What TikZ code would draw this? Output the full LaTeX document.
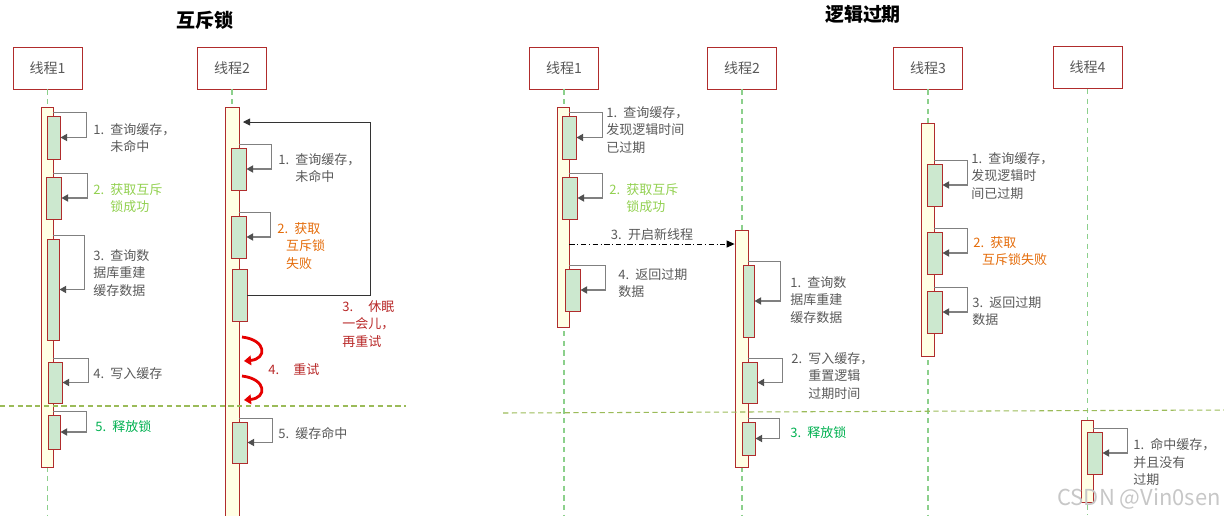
\documentclass[tikz,border=0pt]{standalone}
\usepackage{fontspec}
\setmainfont{Noto Sans CJK SC}
\usetikzlibrary{arrows.meta, positioning, fit, calc}

\definecolor{boxred}{RGB}{176,44,44}
\definecolor{txtgray}{RGB}{89,89,89}
\definecolor{barfill}{RGB}{255,255,228}
\definecolor{execfill}{RGB}{204,232,207}
\definecolor{lifegreen}{RGB}{140,208,140}
\definecolor{sepgreen}{RGB}{155,187,89}
\definecolor{callgray}{RGB}{128,128,128}
\definecolor{tipgray}{RGB}{80,80,80}
\definecolor{okgreen}{RGB}{146,208,80}
\definecolor{relgreen}{RGB}{0,176,80}
\definecolor{failorange}{RGB}{228,108,10}
\definecolor{sleepred}{RGB}{184,40,40}
\definecolor{retryred}{RGB}{230,0,0}

% fixed-width step number, like "1."
\newcommand{\stepno}[2][9.7pt]{\makebox[#1][l]{#2}}

\begin{document}
\begin{tikzpicture}[x=0.02cm, y=-0.02cm,
  title/.style={font=\fontsize{10.8pt}{12pt}\selectfont\bfseries, text=black, inner sep=0pt},
  thread/.style={draw=boxred, line width=0.5pt, fill=white, minimum width=1.38cm,
    minimum height=0.84cm, text=txtgray, font=\fontsize{8pt}{9pt}\selectfont},
  life/.style={lifegreen, line width=0.6pt, dash pattern=on 3pt off 2.5pt},
  actbar/.style={draw=boxred, fill=barfill, line width=0.5pt, inner sep=0pt},
  exec/.style={draw=boxred, fill=execfill, line width=0.5pt, inner sep=0pt},
  selfcall/.style={callgray, line width=0.95pt,
    -{Triangle[length=3.8pt, width=4pt, color=tipgray]}},
  sleepline/.style={black!80, line width=0.5pt, -{Triangle[length=4pt, width=4pt]}},
  spawn/.style={black, line width=0.5pt, dash pattern=on 3pt off 1.5pt on 0.6pt off 1.5pt,
    -{Triangle[length=4.5pt, width=4pt]}},
  retry/.style={retryred, line width=1.6pt, -{Triangle[length=4pt, width=5.5pt]}},
  sep/.style={sepgreen, line width=0.6pt, dash pattern=on 3pt off 2pt},
  note/.style={anchor=north west, inner sep=0pt, align=left, text=txtgray,
    font=\fontsize{7.4pt}{10pt}\selectfont}]

  \useasboundingbox (0,0) rectangle (1224,515);

  % Titles
  \node[title] (mtitle) at (205,20) {互斥锁};
  \node[title] (ltitle) at (863,14) {逻辑过期};

  % Thread heads
  \node[thread] (mt1) at (47.5,68) {线程1};
  \node[thread] (mt2) at (232,68) {线程2};
  \node[thread] (lt1) at (564,68) {线程1};
  \node[thread] (lt2) at (742,68) {线程2};
  \node[thread] (lt3) at (928,68) {线程3};
  \node[thread] (lt4) at (1087.5,67.5) {线程4};

  % Lifelines
  \coordinate (bot) at (0,515);
  \foreach \t in {mt1,mt2,lt1,lt2,lt3,lt4}
    \draw[life] (\t.south) -- (\t.south |- bot);

  % Activation bars
  \node[actbar, fit={(41,107) (53,467)}] (mbar1) {};
  \node[actbar, fit={(225,107) (239,520)}] (mbar2) {};
  \node[actbar, fit={(557,107) (569,327)}] (lbar1) {};
  \node[actbar, fit={(735,230) (748,467)}] (lbar2) {};
  \node[actbar, fit={(921,123) (934,356)}] (lbar3) {};
  \node[actbar, fit={(1081,420) (1093,502)}] (lbar4) {};

  % === mutex: thread 1 ===
  \node[exec, fit={(47,116) (60,159)}] (m1a) {};
  \node[exec, fit={(46,177) (61,219)}] (m1b) {};
  \node[exec, fit={(47,239) (59,340)}] (m1c) {};
  \node[exec, fit={(48,362) (62,403)}] (m1d) {};
  \node[exec, fit={(48,415) (60,449)}] (m1e) {};

  % === mutex: thread 2 ===
  \node[exec, fit={(231,148) (246,190)}] (m2a) {};
  \node[exec, fit={(231,216) (246,258)}] (m2b) {};
  \node[exec, fit={(232,269) (247,321)}] (m2c) {};
  \node[exec, fit={(232,422) (247,463)}] (m2d) {};

  % === logical expiry ===
  \node[exec, fit={(562,116) (576,159)}] (l1a) {};
  \node[exec, fit={(562,177) (577,219)}] (l1b) {};
  \node[exec, fit={(565,269) (580,311)}] (l1c) {};
  \node[exec, fit={(743,265) (754,337)}] (l2a) {};
  \node[exec, fit={(742,362) (757,403)}] (l2b) {};
  \node[exec, fit={(742,422) (755,455)}] (l2c) {};
  \node[exec, fit={(927,164) (942,206)}] (l3a) {};
  \node[exec, fit={(927,232) (942,274)}] (l3b) {};
  \node[exec, fit={(927,291) (942,333)}] (l3c) {};
  \node[exec, fit={(1087,432) (1102,474)}] (l4a) {};

  % Self calls
  \foreach \e/\b/\d in {m1a/mbar1/33, m1b/mbar1/34, m1c/mbar1/31, m1d/mbar1/35,
      m1e/mbar1/33, m2a/mbar2/32, m2b/mbar2/31, m2d/mbar2/33,
      l1a/lbar1/33, l1b/lbar1/33, l1c/lbar1/36, l2a/lbar2/32, l2b/lbar2/34,
      l2c/lbar2/31, l3a/lbar3/33, l3b/lbar3/33, l3c/lbar3/33, l4a/lbar4/34}
    \draw[selfcall] ($(\e.north -| \b.east)+(0,-3)$) -- ++(\d,0) |- (\e.east);

  % Sleep and go back
  \coordinate (again) at (243,122);
  \draw[sleepline] (m2c.east) -- ++(123,0) |- (again);

  % Retry hooks
  \draw[retry] (242,337) .. controls (267,340) and (267,359) .. (244,361);
  \draw[retry] (242,376) .. controls (267,379) and (267,398) .. (244,400);

  % Start new thread
  \coordinate (spawnrow) at (0,244);
  \draw[spawn] (lbar1.east |- spawnrow) -- (lbar2.west |- spawnrow)
    node[midway, above, inner sep=1.5pt, text=txtgray,
      font=\fontsize{7.4pt}{10pt}\selectfont] (spawn-t) {\stepno{3.}开启新线程};

  % Notes: mutex
  \node[note] (m1a-t) at (93,123) {\stepno{1.}查询缓存，\\\hspace*{9.7pt}未命中};
  \node[note, text=okgreen] (m1b-t) at (93,183) {\stepno{2.}获取互斥\\\hspace*{9.7pt}锁成功};
  \node[note] (m1c-t) at (93,249) {\stepno{3.}查询数\\据库重建\\缓存数据};
  \node[note] (m1d-t) at (93,367) {\stepno{4.}写入缓存};
  \node[note, text=relgreen] (m1e-t) at (95,420) {\stepno{5.}释放锁};
  \node[note] (m2a-t) at (278,153) {\stepno{1.}查询缓存，\\\hspace*{9.7pt}未命中};
  \node[note, text=failorange] (m2b-t) at (277,222)
    {\stepno{2.}获取\\\hspace*{5pt}互斥锁\\\hspace*{5pt}失败};
  \node[note, text=sleepred] (m2c-t) at (342,300) {\stepno[14.8pt]{3.}休眠\\一会儿，\\再重试};
  \node[note, text=sleepred] (retry-t) at (268,363) {\stepno[14.3pt]{4.}重试};
  \node[note] (m2d-t) at (278,427) {\stepno{5.}缓存命中};

  % Notes: logical expiry
  \node[note] (l1a-t) at (606,106) {\stepno{1.}查询缓存，\\发现逻辑时间\\已过期};
  \node[note, text=okgreen] (l1b-t) at (609,183) {\stepno{2.}获取互斥\\\hspace*{9.7pt}锁成功};
  \node[note] (l1c-t) at (618,268) {\stepno{4.}返回过期\\数据};
  \node[note] (l2a-t) at (790,276) {\stepno{1.}查询数\\据库重建\\缓存数据};
  \node[note] (l2b-t) at (791,352)
    {\stepno{2.}写入缓存，\\\hspace*{9.7pt}重置逻辑\\\hspace*{9.7pt}过期时间};
  \node[note, text=relgreen] (l2c-t) at (790,426) {\stepno{3.}释放锁};
  \node[note] (l3a-t) at (971,152) {\stepno{1.}查询缓存，\\发现逻辑时\\间已过期};
  \node[note, text=failorange] (l3b-t) at (973,236) {\stepno{2.}获取\\\hspace*{5pt}互斥锁失败};
  \node[note] (l3c-t) at (972,296) {\stepno{3.}返回过期\\数据};
  \node[note] (l4a-t) at (1133,438) {\stepno{1.}命中缓存，\\并且没有\\过期};

  % Separators
  \draw[sep] (0,406) -- (406,406);
  \draw[sep] (503,413) -- (1224,410);

  % Watermark
  \node[anchor=base east, inner sep=0pt, text=black!22, font=\fontsize{12.5pt}{12.5pt}\selectfont]
    (mark) at (1221,505) {CSDN @Vin0sen};
\end{tikzpicture}
\end{document}
